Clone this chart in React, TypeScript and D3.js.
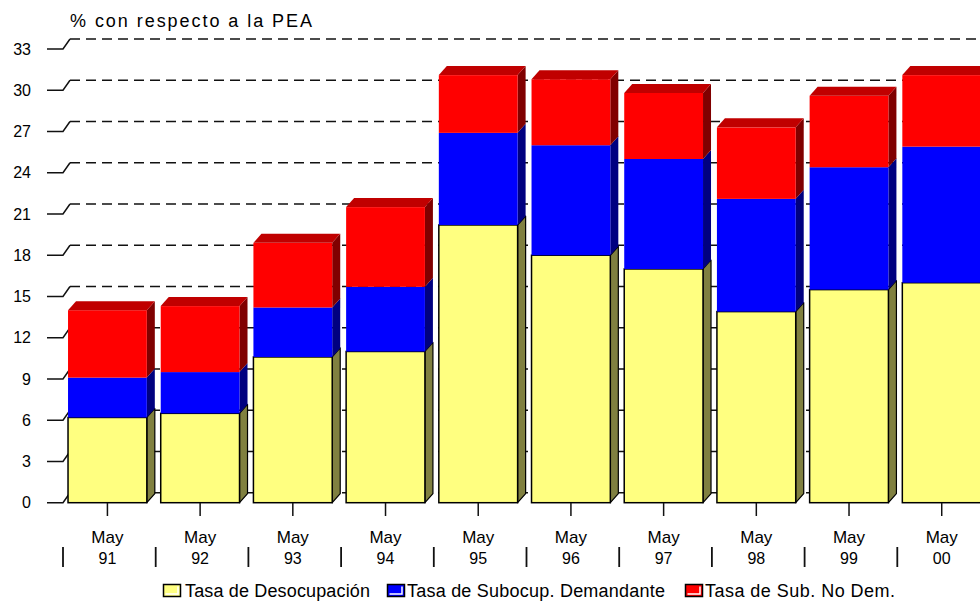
import * as d3 from 'd3';
import { useEffect, useRef } from 'react';

const categories = ['91', '92', '93', '94', '95', '96', '97', '98', '99', '00'];
const desocupacion = [6.2, 6.5, 10.6, 11.0, 20.2, 18.0, 17.0, 13.9, 15.5, 16.0];
const subDemandante = [2.9, 3.0, 3.6, 4.7, 6.7, 8.0, 8.0, 8.2, 8.9, 9.9];
const subNoDem = [4.9, 4.8, 4.7, 5.8, 4.2, 4.8, 4.8, 5.2, 5.2, 5.2];
const yTicks = [0, 3, 6, 9, 12, 15, 18, 21, 24, 27, 30, 33];

const seriesInfo = [
  { key: 'des', name: 'Tasa de Desocupación', front: '#FFFF80', side: '#808040', top: '#C0C060', outline: '#000' },
  { key: 'dem', name: 'Tasa de Subocup. Demandante', front: '#0000FF', side: '#000080', top: '#0000C0', outline: null },
  { key: 'nodem', name: 'Tasa de Sub. No Dem.', front: '#FF0000', side: '#800000', top: '#C00000', outline: null },
];

export default function App() {
  const ref = useRef<HTMLDivElement>(null);

  useEffect(() => {
    document.body.style.margin = '0';
    const width = 980;
    const height = 601;
    const font = '"Liberation Sans", Arial, sans-serif';

    d3.select(ref.current).selectAll('*').remove();
    const svg = d3
      .select(ref.current)
      .append('svg')
      .attr('width', width)
      .attr('height', height)
      .style('display', 'block')
      .style('background', '#fff');

    const x = d3.scaleBand().domain(categories).range([62, 989]).paddingInner(0).paddingOuter(0);
    const y = d3.scaleLinear().domain([0, 33]).range([502.7, 49]);
    const dx = 8;
    const dy = -9;
    const bw = x.bandwidth();
    const barOff = bw * 0.065;
    const barW = bw * 0.85;

    /* ---------- title ---------- */
    svg
      .append('text')
      .attr('x', 70)
      .attr('y', 27)
      .attr('textLength', 242)
      .attr('lengthAdjust', 'spacing')
      .style('font-family', font)
      .style('font-size', '18px')
      .text('% con respecto a la PEA');

    /* ---------- gridlines (back wall) ---------- */
    svg
      .selectAll('.grid')
      .data(yTicks)
      .enter()
      .append('line')
      .attr('x1', 70)
      .attr('x2', width)
      .attr('y1', d => y(d) + dy - 1)
      .attr('y2', d => y(d) + dy - 1)
      .attr('stroke', '#111')
      .attr('stroke-width', 1.5)
      .attr('stroke-dasharray', '10,6');

    /* ---------- y ticks ---------- */
    svg
      .selectAll('.ytick')
      .data(yTicks)
      .enter()
      .append('path')
      .attr('d', d => `M47,${y(d)}H63L70,${y(d) + dy - 1}`)
      .attr('fill', 'none')
      .attr('stroke', '#111')
      .attr('stroke-width', 1.5);

    svg
      .selectAll('.ylab')
      .data(yTicks)
      .enter()
      .append('text')
      .attr('x', 31)
      .attr('y', d => y(d))
      .attr('dy', '0.36em')
      .attr('text-anchor', 'end')
      .style('font-family', font)
      .style('font-size', '16px')
      .text(d => String(d));

    /* ---------- stacked 3D bars ---------- */
    const rows = categories.map((c, i) => ({
      cat: c,
      des: desocupacion[i],
      dem: subDemandante[i],
      nodem: subNoDem[i],
    }));
    const stacked = d3.stack<any>().keys(seriesInfo.map(s => s.key))(rows);

    categories.forEach((c, i) => {
      const g = svg.append('g');
      const x0 = (x(c) as number) + barOff;
      const x1 = x0 + barW;
      stacked.forEach((layer, si) => {
        const info = seriesInfo[si];
        const [v0, v1] = layer[i];
        const yb = y(v0);
        const yt = y(v1);
        // side face
        g.append('path')
          .attr('d', `M${x1},${yb}L${x1 + dx},${yb + dy}L${x1 + dx},${yt + dy}L${x1},${yt}Z`)
          .attr('fill', info.side)
          .attr('stroke', info.outline || 'none')
          .attr('stroke-width', 1.2)
          .attr('stroke-linejoin', 'round');
        // front face
        g.append('rect')
          .attr('x', x0)
          .attr('y', yt)
          .attr('width', barW)
          .attr('height', yb - yt)
          .attr('fill', info.front)
          .attr('stroke', info.outline || 'none')
          .attr('stroke-width', 1.5);
        if (si === stacked.length - 1) {
          g.append('path')
            .attr('d', `M${x0},${yt}L${x0 + dx},${yt + dy}L${x1 + dx},${yt + dy}L${x1},${yt}Z`)
            .attr('fill', info.top);
        }
      });
    });

    /* ---------- x axis ticks & labels ---------- */
    const centers = categories.map(c => (x(c) as number) + barOff + barW / 2);
    svg
      .selectAll('.xtick')
      .data(centers)
      .enter()
      .append('line')
      .attr('x1', d => d)
      .attr('x2', d => d)
      .attr('y1', 503)
      .attr('y2', 516)
      .attr('stroke', '#111')
      .attr('stroke-width', 1.5);

    svg
      .selectAll('.xmay')
      .data(categories)
      .enter()
      .append('text')
      .attr('x', (d, i) => centers[i])
      .attr('y', 543)
      .attr('text-anchor', 'middle')
      .style('font-family', font)
      .style('font-size', '17px')
      .text('May');

    svg
      .selectAll('.xyear')
      .data(categories)
      .enter()
      .append('text')
      .attr('x', (d, i) => centers[i])
      .attr('y', 564)
      .attr('text-anchor', 'middle')
      .style('font-family', font)
      .style('font-size', '16px')
      .text(d => d);

    svg
      .selectAll('.xsep')
      .data(categories)
      .enter()
      .append('line')
      .attr('x1', d => (x(d) as number) + 1)
      .attr('x2', d => (x(d) as number) + 1)
      .attr('y1', 547)
      .attr('y2', 567)
      .attr('stroke', '#111')
      .attr('stroke-width', 1.8);

    /* ---------- legend ---------- */
    const legendPos = [
      { sx: 163, tx: 185, tl: 185 },
      { sx: 387, tx: 407, tl: 258 },
      { sx: 685, tx: 705, tl: 190 },
    ];
    seriesInfo.forEach((s, i) => {
      const p = legendPos[i];
      svg
        .append('rect')
        .attr('x', p.sx + 0.5)
        .attr('y', 584.5)
        .attr('width', 17)
        .attr('height', 12)
        .attr('fill', s.front)
        .attr('stroke', '#000')
        .attr('stroke-width', 1.5);
      svg
        .append('path')
        .attr('d', `M${p.sx + 15},${586.5}V${594}H${p.sx + 2.5}`)
        .attr('fill', 'none')
        .attr('stroke', '#fff')
        .attr('stroke-width', 1.5);
      svg
        .append('text')
        .attr('x', p.tx)
        .attr('y', 597)
        .attr('textLength', p.tl)
        .attr('lengthAdjust', 'spacing')
        .style('font-family', font)
        .style('font-size', '18px')
        .text(s.name);
    });
  }, []);

  return <div ref={ref} />;
}
